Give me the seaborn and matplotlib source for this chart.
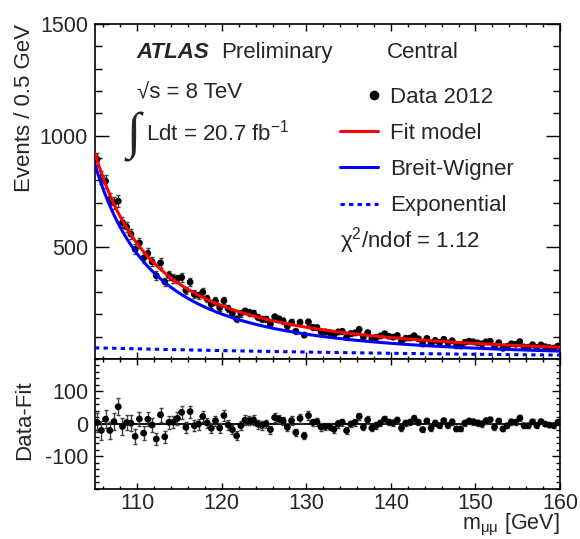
import numpy as np
import pandas as pd
import matplotlib
matplotlib.use("Agg")
import matplotlib.pyplot as plt
from matplotlib.lines import Line2D
from matplotlib.legend_handler import HandlerBase
from matplotlib.ticker import MultipleLocator, FixedLocator
import seaborn as sns

# Dimuon invariant mass spectrum, 0.5 GeV bins from 105 to 160 GeV
bin_low = 105.0
bin_width = 0.5
counts = [
    894, 813, 796, 715, 700, 707, 611, 591, 559, 491,
    519, 452, 473, 435, 373, 430, 346, 375, 361, 359,
    365, 307, 344, 290, 285, 299, 270, 245, 260, 230,
    261, 225, 204, 179, 204, 215, 208, 205, 187, 178,
    178, 156, 189, 180, 171, 147, 164, 124, 164, 107,
    166, 142, 141, 122, 121, 118, 107, 121, 124, 96,
    114, 117, 133, 98, 118, 91, 97, 103, 113, 102,
    98, 105, 79, 93, 94, 104, 91, 67, 92, 69,
    83, 74, 88, 72, 82, 59, 58, 75, 80, 77,
    72, 68, 77, 79, 55, 73, 48, 57, 68, 66,
    78, 54, 53, 64, 52, 63, 55, 51, 49, 58,
]

# Fit components: Breit-Wigner tail of the Z plus an exponential background
bw_mass = 91.19      # GeV
bw_width = 2.5       # GeV
bw_norm = 870.0      # Breit-Wigner value at 105 GeV
exp_norm = 50.0      # exponential value at 105 GeV
exp_slope = 52.0     # GeV
chi2_ndof = 1.12

legend_labels = ["Data 2012", "Fit model", "Breit-Wigner", "Exponential"]


def breit_wigner(m):
    g2 = (bw_width / 2.0) ** 2
    return bw_norm * ((bin_low - bw_mass) ** 2 + g2) / ((m - bw_mass) ** 2 + g2)


def exponential(m):
    return exp_norm * np.exp(-(m - bin_low) / exp_slope)


def fit_model(m):
    return breit_wigner(m) + exponential(m)


n_bins = len(counts)
centers = bin_low + bin_width * (np.arange(n_bins) + 0.5)
data = pd.DataFrame({"m": centers, "n": np.array(counts, dtype=float)})
data["err"] = np.sqrt(data["n"])
data["resid"] = data["n"] - fit_model(data["m"])

grid = np.linspace(105, 160, 600)
curves = pd.DataFrame({
    "m": grid,
    "fit": fit_model(grid),
    "bw": breit_wigner(grid),
    "exp": exponential(grid),
})

sns.set_theme(style="ticks")
plt.rcParams["font.family"] = ["Liberation Sans", "DejaVu Sans"]
plt.rcParams["mathtext.fontset"] = "custom"
plt.rcParams["mathtext.rm"] = "Liberation Sans"
plt.rcParams["mathtext.it"] = "Liberation Sans:italic"
plt.rcParams["mathtext.default"] = "regular"
plt.rcParams["axes.unicode_minus"] = False
plt.rcParams["axes.linewidth"] = 1.2
plt.rcParams["axes.edgecolor"] = "black"

DOTTED = (0, (1.4, 1.4))

fig = plt.figure(figsize=(5.8, 5.39), dpi=100)
ax = fig.add_axes([0.1638, 0.334, 0.8017, 0.6215])
axr = fig.add_axes([0.1638, 0.0928, 0.8017, 0.2412])

# --- upper panel: data and fit components ---
ax.errorbar(data["m"], data["n"], yerr=data["err"], fmt="none",
            ecolor="0.25", elinewidth=1.0, capsize=1.5, capthick=1.0, zorder=2)
sns.scatterplot(data=data, x="m", y="n", color="black", s=24,
                edgecolor="none", ax=ax, zorder=3, legend=False)
sns.lineplot(data=curves, x="m", y="exp", color="blue", lw=2.2,
             linestyle=DOTTED, ax=ax, zorder=4)
sns.lineplot(data=curves, x="m", y="bw", color="blue", lw=2.2, ax=ax, zorder=4)
sns.lineplot(data=curves, x="m", y="fit", color="red", lw=2.2, ax=ax, zorder=5)

ax.set_xlim(105, 160)
ax.set_ylim(0, 1500)
ax.yaxis.set_major_locator(FixedLocator([500, 1000, 1500]))
ax.yaxis.set_minor_locator(MultipleLocator(100))
ax.xaxis.set_major_locator(MultipleLocator(10))
ax.xaxis.set_minor_locator(MultipleLocator(2))
ax.tick_params(which="both", direction="in", top=True, right=True,
               labelbottom=False, labelsize=15.5, width=1.0, color="black")
ax.tick_params(axis="y", which="major", length=10, pad=5)
ax.tick_params(axis="y", which="minor", length=5)
ax.tick_params(axis="x", which="major", length=5)
ax.tick_params(axis="x", which="minor", length=2.5)
ax.set_xlabel("")
ax.set_ylabel("")

# --- lower panel: data minus fit ---
axr.axhline(0, color="black", lw=1.3, zorder=1)
axr.errorbar(data["m"], data["resid"], yerr=data["err"], fmt="none",
             ecolor="0.25", elinewidth=1.0, capsize=1.5, capthick=1.0, zorder=2)
sns.scatterplot(data=data, x="m", y="resid", color="black", s=24,
                edgecolor="none", ax=axr, zorder=3, legend=False)
axr.set_xlim(105, 160)
axr.set_ylim(-200, 200)
axr.yaxis.set_major_locator(FixedLocator([-100, 0, 100]))
axr.yaxis.set_minor_locator(MultipleLocator(20))
axr.xaxis.set_major_locator(MultipleLocator(10))
axr.xaxis.set_minor_locator(MultipleLocator(2))
axr.tick_params(which="both", direction="in", top=True, right=True,
                labelsize=15.5, width=1.0, color="black")
axr.tick_params(axis="y", which="major", length=5.5, pad=5)
axr.tick_params(axis="y", which="minor", length=3)
axr.tick_params(axis="x", which="major", length=4.5, pad=3)
axr.tick_params(axis="x", which="minor", length=2.2)
axr.set_xlabel("")
axr.set_ylabel("")

for a in (ax, axr):
    for s in a.spines.values():
        s.set_visible(True)
        s.set_linewidth(1.2)
        s.set_color("black")

# axis titles
fig.text(0.043, 0.9555, f"Events / {bin_width:g} GeV", rotation=90,
         ha="center", va="top", fontsize=16)
fig.text(0.043, 0.221, "Data-Fit", rotation=90, ha="center", va="center",
         fontsize=16)
fig.text(0.9655, 0.002, r"m$_{\mu\mu}$ [GeV]", ha="right", va="bottom",
         fontsize=15.5)

# labels inside the upper panel
tr = ax.transAxes
ax.text(0.090, 0.916, "ATLAS", fontsize=16, fontweight="bold", style="italic",
        transform=tr, va="center", ha="left")
ax.text(0.272, 0.916, "Preliminary", fontsize=16, transform=tr,
        va="center", ha="left")
ax.text(0.628, 0.916, "Central", fontsize=16, transform=tr,
        va="center", ha="left")
ax.text(0.090, 0.794, "√s = 8 TeV", fontsize=16, transform=tr,
        va="center", ha="left")
ax.text(0.083, 0.664, "∫", fontsize=37, transform=tr, va="center",
        ha="center", family=["Liberation Serif", "DejaVu Serif"])
ax.text(0.110, 0.675, "Ldt = 20.7 fb$^{-1}$", fontsize=16, transform=tr,
        va="center", ha="left")
ax.text(0.527, 0.355, f"χ$^{{2}}$/ndof = {chi2_ndof:.2f}", fontsize=16,
        transform=tr, va="center", ha="left")


class RightMarker(HandlerBase):
    """Legend key showing a single marker near the right end of the key."""

    def create_artists(self, legend, orig_handle, xdescent, ydescent,
                       width, height, fontsize, trans):
        x = -xdescent + 0.9 * width
        y = (height - ydescent) / 2.0
        dot = Line2D([x], [y], marker=orig_handle.get_marker(),
                     markersize=orig_handle.get_markersize(),
                     color=orig_handle.get_color(), linestyle="none",
                     transform=trans)
        return [dot]


handles = [
    Line2D([], [], marker="o", color="black", linestyle="none", markersize=6),
    Line2D([], [], color="red", lw=2.2),
    Line2D([], [], color="blue", lw=2.2),
    Line2D([], [], color="blue", lw=2.2, linestyle=DOTTED),
]
ax.legend(handles, legend_labels, loc="upper left",
          bbox_to_anchor=(0.527, 0.812), frameon=False, fontsize=16,
          handlelength=1.7, handletextpad=0.55, labelspacing=0.68,
          borderpad=0, borderaxespad=0,
          handler_map={handles[0]: RightMarker()})

fig.savefig("out.png", dpi=100)
